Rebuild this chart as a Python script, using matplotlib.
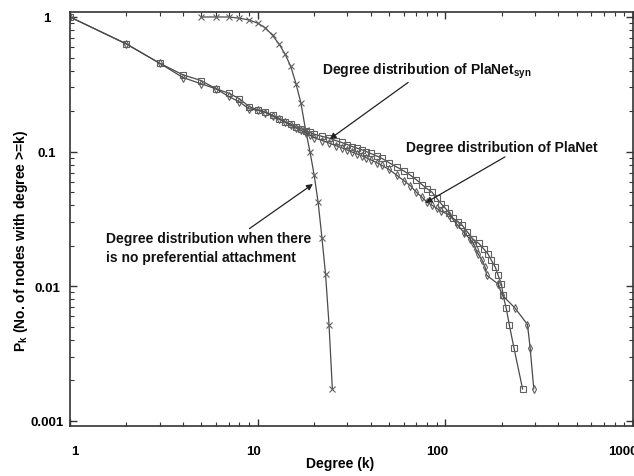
import matplotlib
matplotlib.use("Agg")
import matplotlib.pyplot as plt
from matplotlib.transforms import ScaledTranslation

plt.rcParams['font.family'] = ['Liberation Sans', 'DejaVu Sans']
plt.rcParams['mathtext.fontset'] = 'custom'
plt.rcParams['mathtext.rm'] = 'Liberation Sans:bold'
plt.rcParams['mathtext.it'] = 'Liberation Sans:bold'
plt.rcParams['mathtext.bf'] = 'Liberation Sans:bold'

# ---- data ----
nopa_k = [5, 6, 7, 8, 9, 10, 11, 12, 13, 14, 15, 16, 17, 18, 19, 20, 21, 22, 23, 24, 25]
nopa_p = [1.0, 1.0, 1.0, 0.98, 0.95, 0.90, 0.83, 0.73, 0.63, 0.53, 0.43, 0.32, 0.23,
          0.145, 0.10, 0.067, 0.042, 0.023, 0.0123, 0.0052, 0.00173]

syn_k = [1, 2, 3, 4, 5, 6, 7, 8, 9, 10, 11, 12, 13, 14, 15, 16, 17, 18, 19, 20,
         22, 24, 26, 28, 30, 32, 34, 36, 38, 40, 43, 46, 50, 55, 60, 65, 70, 75, 80,
         85, 90, 95, 100, 105, 110, 117, 123, 131, 140, 151, 160, 169, 176, 185, 191,
         199, 203, 211, 219, 232, 258]
syn_p = [1.0, 0.63, 0.454, 0.372, 0.337, 0.293, 0.272, 0.247, 0.216, 0.205, 0.197,
         0.186, 0.176, 0.167, 0.160, 0.153, 0.148, 0.143, 0.139, 0.135,
         0.130, 0.126, 0.121, 0.117, 0.113, 0.109, 0.106, 0.103, 0.100, 0.097, 0.093,
         0.089, 0.083, 0.077, 0.072, 0.067, 0.062, 0.057, 0.053,
         0.050, 0.045, 0.041, 0.038, 0.035, 0.032, 0.030, 0.0284, 0.0254, 0.0225,
         0.0208, 0.019, 0.0173, 0.0156, 0.0138, 0.0121,
         0.0104, 0.0086, 0.0069, 0.0052, 0.0035, 0.00173]

pla_k = [1, 2, 3, 4, 5, 6, 7, 8, 9, 10, 11, 12, 13, 14, 15, 16, 17, 18, 19, 20,
         22, 24, 26, 28, 30, 32, 34, 36, 38, 40, 43, 46, 50, 55, 60, 65, 70, 75, 80,
         85, 90, 95, 105, 115, 126, 135, 141, 145, 150, 157, 163, 166, 191, 201, 235,
         274, 283, 296]
pla_p = [1.0, 0.63, 0.454, 0.355, 0.319, 0.293, 0.257, 0.234, 0.208, 0.203, 0.195,
         0.184, 0.174, 0.165, 0.157, 0.150, 0.144, 0.138, 0.133, 0.127,
         0.121, 0.116, 0.111, 0.107, 0.103, 0.099, 0.096, 0.093, 0.090, 0.087, 0.083,
         0.079, 0.074, 0.067, 0.061, 0.056, 0.050, 0.046, 0.042,
         0.040, 0.038, 0.036, 0.034, 0.029, 0.025, 0.0225, 0.0208, 0.019, 0.0173,
         0.0156, 0.0138, 0.0121, 0.0104, 0.0086, 0.0069,
         0.0052, 0.0035, 0.00173]

xticks = [1, 10, 100, 1000]
xtick_labels = ['1', '10', '100', '1000']
yticks = [0.001, 0.01, 0.1, 1]
ytick_labels = ['0.001', '0.01', '0.1', '1']

W, H = 634, 477
fig = plt.figure(figsize=(W / 100, H / 100), dpi=100)
ax = fig.add_axes([70 / W, 1 - 427 / H, 563 / W, 414 / H])

lc = '#4a4a4a'
mc = '#606060'
ax.plot(nopa_k, nopa_p, color=lc, lw=0.9, marker='x', ms=4, mew=0.8, mec=mc)
ax.plot(syn_k, syn_p, color=lc, lw=0.9, marker='s', ms=4.8, mew=0.8, mfc='none', mec=mc)
ax.plot(pla_k, pla_p, color=lc, lw=0.9, marker='d', ms=4, mew=0.8, mfc='none', mec=mc)

ax.set_xscale('log')
ax.set_yscale('log')
ax.set_xlim(1, 1000)
ax.set_ylim(0.000918, 1.089)

ax.set_xticks(xticks)
ax.set_xticklabels(xtick_labels)
ax.set_yticks(yticks)
ax.set_yticklabels(ytick_labels)
ax.tick_params(which='both', direction='in', top=True, right=True, color='#333333')
ax.tick_params(which='major', length=5, width=1.0)
ax.tick_params(which='minor', length=3, width=0.8)
ax.tick_params(axis='x', which='major', pad=14, labelsize=9.5)
ax.tick_params(axis='y', which='major', pad=16.5, labelsize=9.5)
for lab in ax.get_yticklabels():
    lab.set_horizontalalignment('center')
    lab.set_fontweight('bold')
for lab in ax.get_xticklabels():
    lab.set_fontweight('bold')
xoff = {'1': 5, '10': -4, '100': -8, '1000': -10}
for lab, t in zip(ax.get_xticklabels(), xtick_labels):
    lab.set_transform(lab.get_transform() + ScaledTranslation(xoff[t] / 100, 0, fig.dpi_scale_trans))
for s in ax.spines.values():
    s.set_color('#333333')
    s.set_linewidth(1.2)

ax.set_xlabel('Degree (k)', fontsize=10, fontweight='bold')
ax.xaxis.set_label_coords((340 - 70) / 563, (427 - 457) / 414)
ax.set_ylabel(r'$\mathrm{P_k}$ (No. of nodes with degree >=k)', fontsize=10, fontweight='bold')
ax.yaxis.set_label_coords((30 - 70) / 563, (427 - 241) / 414)

tkw = dict(fontsize=10, fontweight='bold', color='#111111')
akw = dict(arrowstyle='-|>', color='#222222', lw=0.9, mutation_scale=9, shrinkA=0, shrinkB=0)
ax.annotate(r'Degree distribution of PlaNet$_{\mathrm{syn}}$', xy=(24.2, 0.124), xytext=(22.0, 0.404),
            ha='left', va='center', arrowprops=dict(akw, relpos=(0.43, 0.0)), **tkw)
ax.annotate('Degree distribution of PlaNet', xy=(78.5, 0.0417), xytext=(61.9, 0.108),
            ha='left', va='center', arrowprops=dict(akw, relpos=(0.54, 0.0)), **tkw)
ax.annotate('Degree distribution when there\nis no preferential attachment', xy=(19.7, 0.0575),
            xytext=(1.554, 0.0194), ha='left', va='center', linespacing=1.4,
            arrowprops=dict(akw, relpos=(0.68, 1.0)), **tkw)

fig.savefig('out.png', dpi=100)
